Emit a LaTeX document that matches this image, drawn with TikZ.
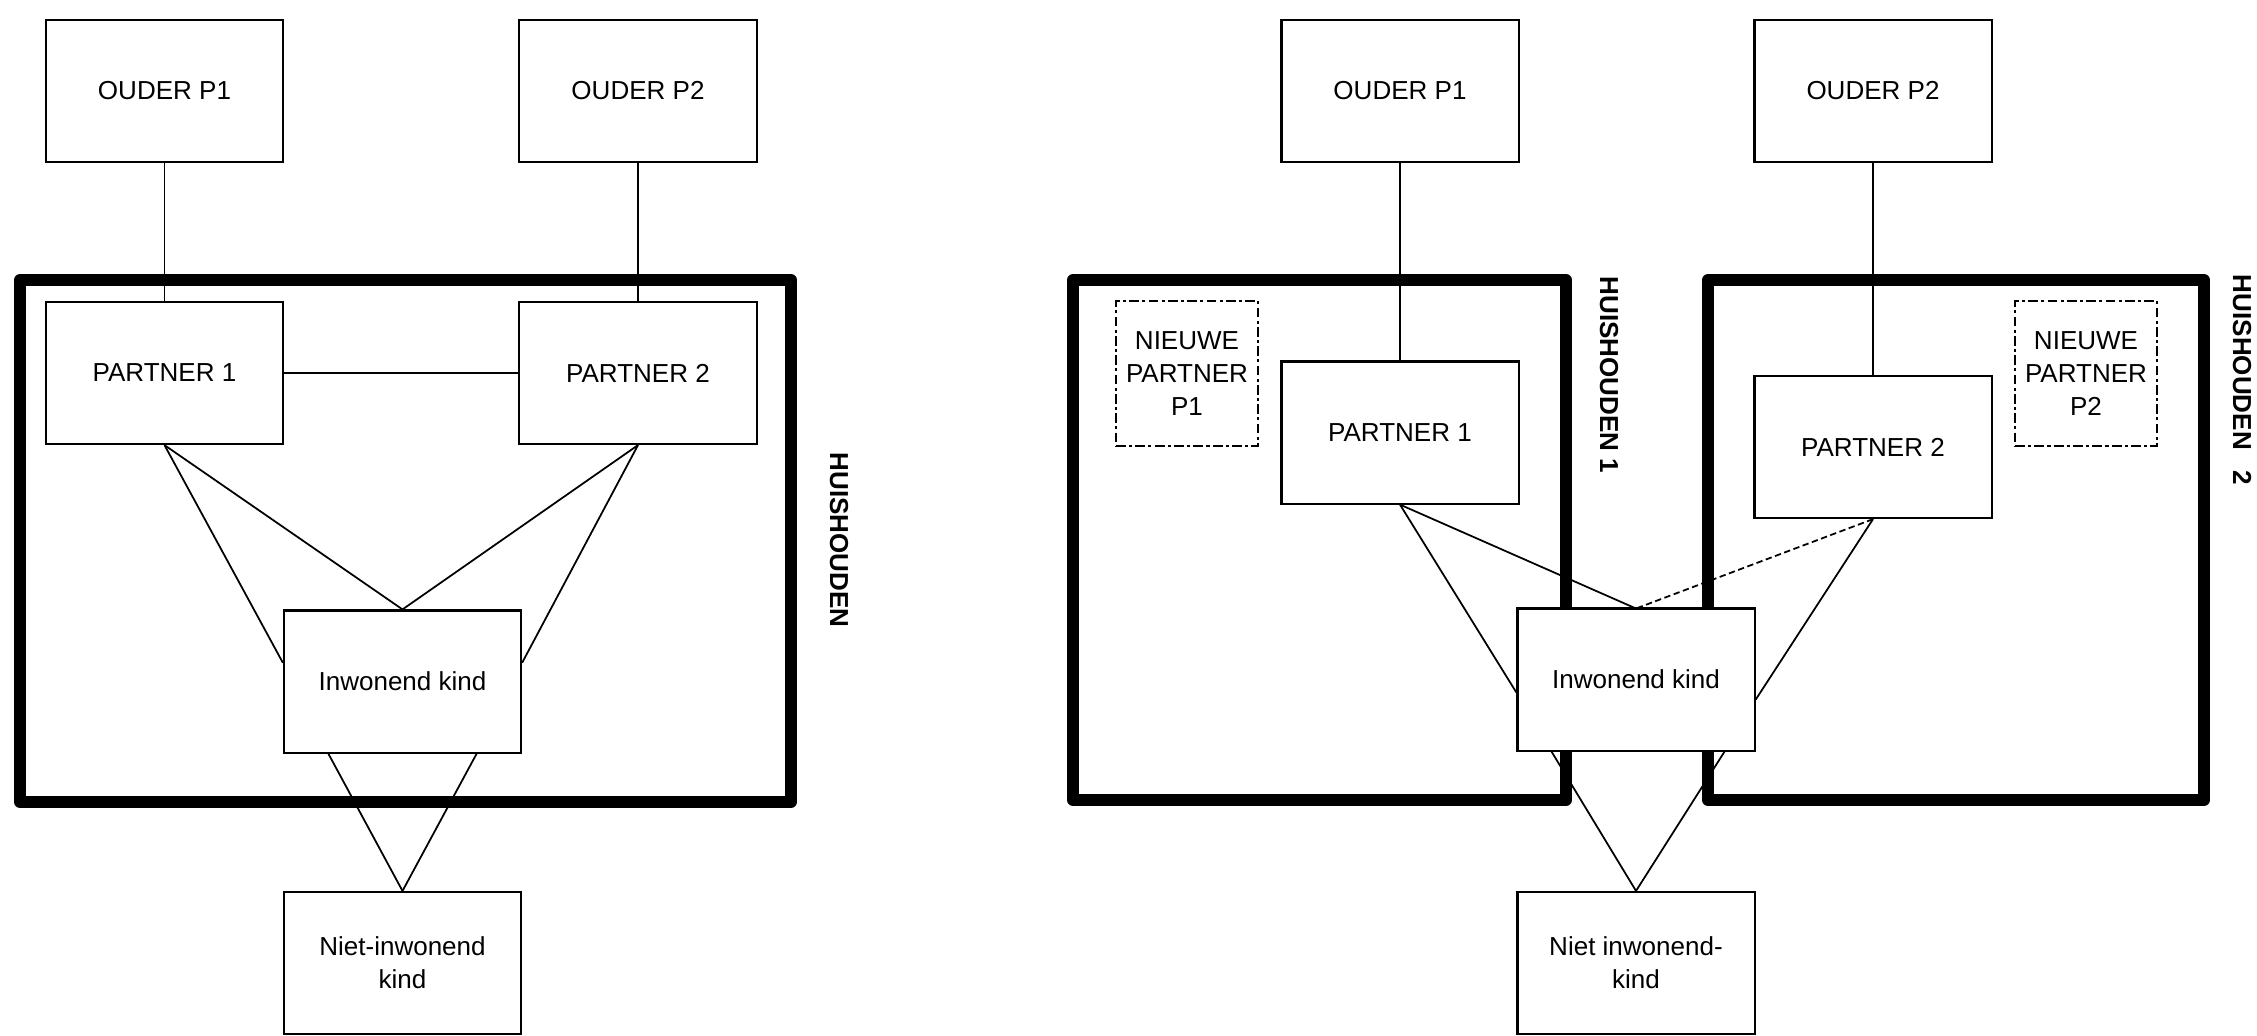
\documentclass[tikz,border=0pt]{standalone}
\usepackage{fontspec}
\setmainfont{Liberation Sans}
\usetikzlibrary{calc}
\begin{document}
\begin{tikzpicture}[x=0.01cm,y=-0.01cm,
  box/.style={draw, fill=white, line width=0.6pt, inner sep=0pt,
    minimum width=2.37cm, minimum height=1.42cm, align=center,
    font=\fontsize{7.4}{9.3}\selectfont},
  dbox/.style={box, dash pattern=on 2.8pt off 0.9pt on 0.9pt off 0.9pt,
    minimum width=1.42cm, minimum height=1.45cm},
  huis/.style={line width=3.4pt, line join=round},
  conn/.style={line width=0.5pt},
  dconn/.style={conn, dash pattern=on 1.8pt off 1pt},
  lbl/.style={font=\fontsize{7.4}{9}\selectfont\bfseries, rotate=-90, inner sep=0pt}
]
\useasboundingbox (0,0) rectangle (2257,1035);

% ---------------- left diagram ----------------
\draw[huis] (20,280) rectangle (791,802);
\node[lbl] (hh) at (839,540) {HUISHOUDEN};

\node[box] (op1) at (164.5,91) {OUDER P1};
\node[box] (op2) at (638,91) {OUDER P2};
\node[box] (p1) at (164.5,373) {PARTNER 1};
\node[box] (p2) at (638,373) {PARTNER 2};
\node[box] (ik) at (402.5,681.5) {Inwonend kind};
\node[box] (nik) at (402.5,963) {Niet-inwonend\\kind};

\draw[conn] (op1.south) -- (p1.north);
\draw[conn] (op2.south) -- (p2.north);
\draw[conn] (p1.east) -- (p2.west);
\draw[conn] (p1.south) -- (ik.north);
\draw[conn] (p1.south) -- ($(ik.north west)!0.37!(ik.south west)$);
\draw[conn] (p2.south) -- (ik.north);
\draw[conn] (p2.south) -- ($(ik.north east)!0.37!(ik.south east)$);
\draw[conn] (nik.north) -- ($(ik.south west)!0.19!(ik.south east)$);
\draw[conn] (nik.north) -- ($(ik.south west)!0.81!(ik.south east)$);

% ---------------- right diagram ----------------
\draw[huis] (1073,280) rectangle (1566,800);
\draw[huis] (1708,280) rectangle (2204,800);
\node[lbl] (hh1) at (1609,375) {HUISHOUDEN 1};
\node[lbl] (hh2) at (2242,380) {HUISHOUDEN\hspace{0.8em}2};

\node[box] (rop1) at (1400,91) {OUDER P1};
\node[box] (rop2) at (1873,91) {OUDER P2};
\node[box] (rp1) at (1400,432.5) {PARTNER 1};
\node[box] (rp2) at (1873,447) {PARTNER 2};
\node[dbox] (np1) at (1187,373.5) {NIEUWE\\PARTNER\\P1};
\node[dbox] (np2) at (2086,373.5) {NIEUWE\\PARTNER\\P2};

\draw[conn] (rop1.south) -- (rp1.north);
\draw[conn] (rop2.south) -- (rp2.north);

\coordinate (rikN) at (1636,608.5);
\draw[conn] (rp1.south) -- (rikN);
\draw[dconn] (rp2.south) -- (rikN);

\node[box] (rik) at (1636,679.5) {Inwonend kind};
\node[box] (rnik) at (1636,963) {Niet inwonend-\\kind};

\draw[conn] (rp1.south) -- ($(rik.north west)!0.59!(rik.south west)$);
\draw[conn] (rp2.south) -- ($(rik.north east)!0.64!(rik.south east)$);
\draw[conn] (rnik.north) -- ($(rik.south west)!0.147!(rik.south east)$);
\draw[conn] (rnik.north) -- ($(rik.south west)!0.87!(rik.south east)$);
\end{tikzpicture}
\end{document}
